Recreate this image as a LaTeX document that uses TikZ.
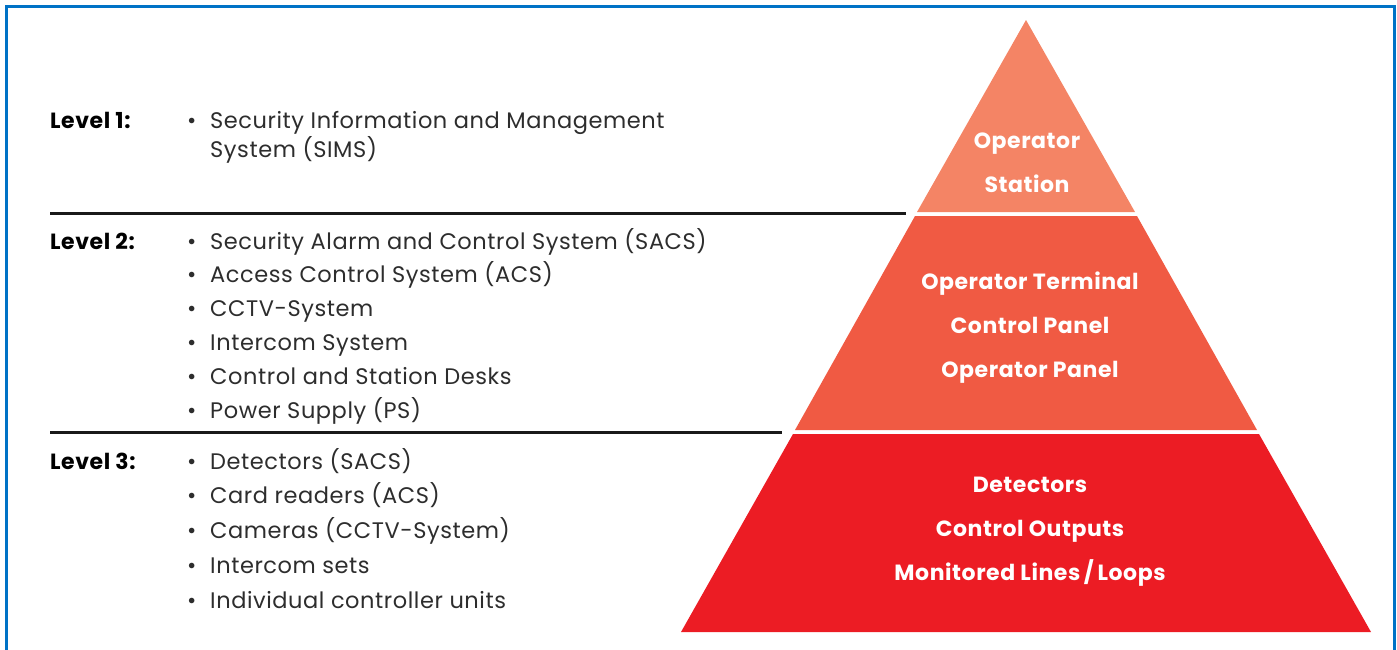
\documentclass[tikz,border=0pt]{standalone}
\usepackage{fontspec}
\setmainfont{Poppins}[LetterSpace=2.5]
\definecolor{rahmen}{RGB}{0,114,198}
\definecolor{stufeA}{RGB}{244,132,101}
\definecolor{stufeB}{RGB}{240,90,67}
\definecolor{stufeC}{RGB}{236,28,36}
\definecolor{schrift}{RGB}{45,45,45}
\tikzset{
  ebene/.style={anchor=base west, inner sep=0pt, font=\fontsize{22}{26}\selectfont\bfseries, text=black},
  eintrag/.style={anchor=base west, inner sep=0pt, font=\fontsize{22.5}{26}\selectfont, text=schrift},
  stufe/.style={anchor=base, inner sep=0pt, font=\fontsize{22}{26}\selectfont\bfseries, text=white},
  trenner/.style={line width=3pt, draw=black!90}
}
\begin{document}
\begin{tikzpicture}[x=1pt,y=-1pt]
\newcommand\punkt[3]{
\node[eintrag] (p#1) at (187,#2) {\textbullet};
\node[eintrag] (t#1) at (210,#2) {#3};
}
\useasboundingbox (0,0) rectangle (1397,649);
\begin{scope}
\clip (0,0) rectangle (1397,649);
\draw[rahmen, line width=3pt] (6,6) rectangle (1394,680);
\end{scope}
% pyramid
\path[fill=stufeA] (1026,20) -- (1135,212) -- (917,212) -- cycle;
\path[fill=stufeB] (915,216) -- (1137,216) -- (1257,430) -- (795,430) -- cycle;
\path[fill=stufeC] (793,434) -- (1259,434) -- (1371,632) -- (681,632) -- cycle;
\node[stufe] (s1) at (1027,148) {Operator};
\node[stufe] (s2) at (1027,192) {Station};
\node[stufe] (s3) at (1030,289) {Operator Terminal};
\node[stufe] (s4) at (1030,333) {Control Panel};
\node[stufe] (s5) at (1030,377) {Operator Panel};
\node[stufe] (s6) at (1030,492) {Detectors};
\node[stufe] (s7) at (1030,536) {Control Outputs};
\node[stufe] (s8) at (1030,580) {Monitored Lines\,/\,Loops};
% separators
\coordinate (l1a) at (50,213);
\coordinate (l1b) at (906,213);
\coordinate (l2a) at (50,432);
\coordinate (l2b) at (782,432);
\path[trenner] (l1a) -- (l1b);
\path[trenner] (l2a) -- (l2b);
% level 1
\node[ebene] (e1) at (50,128) {Level 1:};
\punkt{11}{128}{Security Information and Management}
\node[eintrag] (t12) at (210,157) {System (SIMS)};
% level 2
\node[ebene] (e2) at (50,249) {Level 2:};
\punkt{21}{249}{Security Alarm and Control System (SACS)}
\punkt{22}{282}{Access Control System (ACS)}
\punkt{23}{316}{CCTV-System}
\punkt{24}{350}{Intercom System}
\punkt{25}{384}{Control and Station Desks}
\punkt{26}{418}{Power Supply (PS)}
% level 3
\node[ebene] (e3) at (50,469) {Level 3:};
\punkt{31}{469}{Detectors (SACS)}
\punkt{32}{503}{Card readers (ACS)}
\punkt{33}{538}{Cameras (CCTV-System)}
\punkt{34}{573}{Intercom sets}
\punkt{35}{608}{Individual controller units}
\end{tikzpicture}
\end{document}
